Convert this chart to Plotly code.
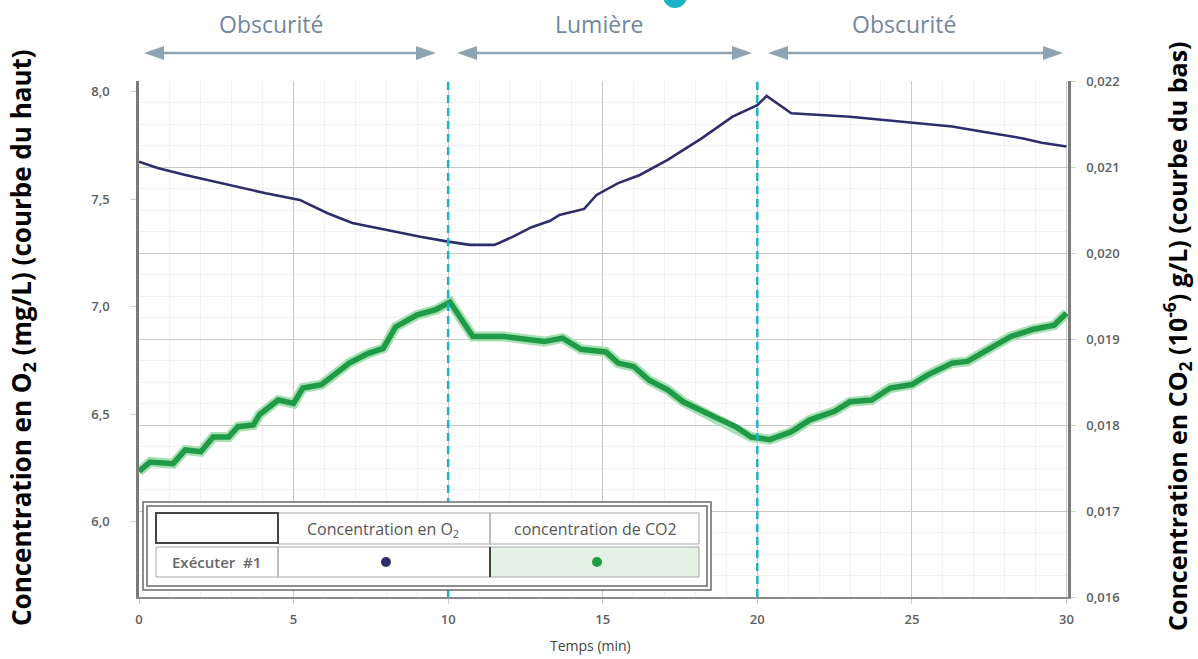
import plotly.graph_objects as go

# ---------------- data ----------------
t_o2 = [0.0, 0.6, 1.5, 3.2, 4.1, 5.2, 6.1, 6.9, 8.0, 9.1, 10.0, 10.7, 11.5, 12.1, 12.7,
        13.3, 13.6, 14.4, 14.8, 15.5, 16.2, 17.1, 18.2, 19.2, 20.0, 20.3, 21.1, 21.9,
        23.0, 24.1, 25.2, 26.3, 27.3, 28.6, 29.2, 30.0]
o2 = [7.675, 7.645, 7.613, 7.558, 7.528, 7.497, 7.435, 7.390, 7.357, 7.326, 7.303, 7.288,
      7.288, 7.326, 7.370, 7.400, 7.427, 7.455, 7.520, 7.575, 7.613, 7.683, 7.783, 7.884,
      7.938, 7.980, 7.900, 7.892, 7.884, 7.869, 7.853, 7.838, 7.814, 7.783, 7.763, 7.745]

t_co2 = [0.0, 0.36, 1.1, 1.5, 2.0, 2.4, 2.9, 3.2, 3.7, 3.9, 4.5, 5.0, 5.3, 5.9, 6.3, 6.8,
         7.4, 7.9, 8.3, 9.0, 9.6, 10.06, 10.8, 11.8, 13.1, 13.7, 14.3, 15.1, 15.5, 16.0,
         16.5, 17.1, 17.6, 18.2, 18.7, 19.3, 19.8, 20.4, 21.1, 21.7, 22.5, 23.0, 23.7,
         24.3, 25.0, 25.5, 26.3, 26.8, 27.3, 28.2, 28.9, 29.6, 30.0]
co2 = [0.01746, 0.01757, 0.01755, 0.01771, 0.01769, 0.01786, 0.01786, 0.01798, 0.01800,
       0.01812, 0.01829, 0.01825, 0.01843, 0.01847, 0.01858, 0.01872, 0.01883, 0.01889,
       0.01914, 0.01928, 0.01934, 0.01943, 0.01903, 0.01903, 0.01897, 0.01901, 0.01888,
       0.01885, 0.01872, 0.01868, 0.01852, 0.01841, 0.01827, 0.01816, 0.01808, 0.01798,
       0.01786, 0.01783, 0.01792, 0.01806, 0.01816, 0.01827, 0.01829, 0.01843, 0.01847,
       0.01858, 0.01872, 0.01874, 0.01885, 0.01903, 0.01911, 0.01916, 0.01930]

x_ticks = [0, 5, 10, 15, 20, 25, 30]
o2_ticks = [6.0, 6.5, 7.0, 7.5, 8.0]
co2_ticks = [0.016, 0.017, 0.018, 0.019, 0.020, 0.021, 0.022]
phase_bounds = [10, 20]
phases = ["Obscurité", "Lumière", "Obscurité"]
legend_headers = ["Concentration en O<sub>2</sub>", "concentration de CO2"]
legend_run = "Exécuter  #1"

# ---------------- layout geometry (pixels) ----------------
W, H = 1198, 659
L, R, T, B = 139, 1068, 81, 597


def px(x):
    return (x - L) / (R - L)


def py(y):
    return (B - y) / (B - T)


BLUE = "#2e2d6b"
GREEN = "#1f9a47"
HALO = "#a8dfb3"
TEAL = "#1cb3c6"
ARROW = "#8fa4b3"
HEAD = "#71879a"
TICK = "#5e5e5e"

fig = go.Figure()

fig.add_trace(go.Scatter(x=t_co2, y=co2, yaxis="y2", mode="lines",
                         line=dict(color=HALO, width=10), hoverinfo="skip", showlegend=False))
fig.add_trace(go.Scatter(x=t_co2, y=co2, yaxis="y2", mode="lines",
                         line=dict(color=GREEN, width=5.5), name="concentration de CO2",
                         showlegend=False))
fig.add_trace(go.Scatter(x=t_o2, y=o2, mode="lines",
                         line=dict(color=BLUE, width=2.6), name="Concentration en O2",
                         showlegend=False))

shapes = []
annotations = []

# dashed phase boundaries
for b in phase_bounds:
    shapes.append(dict(type="line", xref="x", yref="paper", x0=b, x1=b, y0=0, y1=py(77),
                       line=dict(color=TEAL, width=2.5, dash="8px,5px")))

# header arrows
arrow_spans = [(144, 436), (457, 752), (768, 1063)]
label_x = [271, 599, 904]
ay = 53
for (a0, a1), lx, name in zip(arrow_spans, label_x, phases):
    shapes.append(dict(type="line", xref="paper", yref="paper",
                       x0=px(a0 + 14), x1=px(a1 - 14), y0=py(ay), y1=py(ay),
                       line=dict(color=ARROW, width=2.5)))
    shapes.append(dict(type="path", xref="paper", yref="paper",
                       path=f"M {px(a0)} {py(ay)} L {px(a0 + 20)} {py(ay - 7)} L {px(a0 + 20)} {py(ay + 7)} Z",
                       fillcolor=ARROW, line=dict(width=0)))
    shapes.append(dict(type="path", xref="paper", yref="paper",
                       path=f"M {px(a1)} {py(ay)} L {px(a1 - 20)} {py(ay - 7)} L {px(a1 - 20)} {py(ay + 7)} Z",
                       fillcolor=ARROW, line=dict(width=0)))
    annotations.append(dict(xref="paper", yref="paper", x=px(lx), y=py(24), text=name,
                            showarrow=False, font=dict(family="Open Sans", size=23, color=HEAD),
                            xanchor="center", yanchor="middle"))

# partial teal icon at the top edge
shapes.append(dict(type="circle", xref="paper", yref="paper", x0=px(663), x1=px(687),
                   y0=py(8), y1=py(-16), fillcolor=TEAL, line=dict(width=0)))

# legend table
shapes.append(dict(type="rect", xref="paper", yref="paper", x0=px(143), x1=px(711), y0=py(590), y1=py(502),
                   line=dict(color="#6a6a6a", width=1.5), fillcolor="white"))
shapes.append(dict(type="rect", xref="paper", yref="paper", x0=px(147), x1=px(707), y0=py(586), y1=py(506),
                   line=dict(color="#6a6a6a", width=1.5)))
shapes.append(dict(type="rect", xref="paper", yref="paper", x0=px(490), x1=px(699), y0=py(577), y1=py(547),
                   fillcolor="#e4f2e6", line=dict(width=0)))
for (x0, x1, y0, y1) in [(156, 278, 547, 577), (278, 490, 513, 544), (490, 699, 513, 544),
                         (278, 490, 547, 577), (490, 699, 547, 577)]:
    shapes.append(dict(type="rect", xref="paper", yref="paper", x0=px(x0), x1=px(x1), y0=py(y1), y1=py(y0),
                       line=dict(color="#a8a8a8", width=1)))
shapes.append(dict(type="rect", xref="paper", yref="paper", x0=px(156), x1=px(278), y0=py(543), y1=py(513),
                   line=dict(color="#444", width=2)))
shapes.append(dict(type="line", xref="paper", yref="paper", x0=px(490), x1=px(490), y0=py(577), y1=py(547),
                   line=dict(color="#444", width=2)))
shapes.append(dict(type="circle", xref="paper", yref="paper", x0=px(381), x1=px(391), y0=py(567), y1=py(557),
                   fillcolor=BLUE, line=dict(width=0)))
shapes.append(dict(type="circle", xref="paper", yref="paper", x0=px(592), x1=px(602), y0=py(567), y1=py(557),
                   fillcolor=GREEN, line=dict(width=0)))
annotations.append(dict(xref="paper", yref="paper", x=px(383), y=py(529), text=legend_headers[0],
                        showarrow=False, xanchor="center", yanchor="middle",
                        font=dict(family="Open Sans", size=16, color="#555")))
annotations.append(dict(xref="paper", yref="paper", x=px(595), y=py(529), text=legend_headers[1],
                        showarrow=False, xanchor="center", yanchor="middle",
                        font=dict(family="Open Sans", size=16, color="#555")))
annotations.append(dict(xref="paper", yref="paper", x=px(216), y=py(562), text=legend_run,
                        showarrow=False, xanchor="center", yanchor="middle",
                        font=dict(family="Open Sans", size=15, color="#666", weight=600)))

# axis titles
annotations.append(dict(xref="paper", yref="paper", x=px(22), y=py(338),
                        text="Concentration en O<sub>2</sub> (mg/L) (courbe du haut)",
                        textangle=-90, showarrow=False, xanchor="center", yanchor="middle",
                        font=dict(family="Open Sans", size=26, color="black", weight="bold")))
annotations.append(dict(xref="paper", yref="paper", x=px(1177), y=py(336),
                        text="Concentration en CO<sub>2</sub> (10<sup>-6</sup>) g/L) (courbe du bas)",
                        textangle=-90, showarrow=False, xanchor="center", yanchor="middle",
                        font=dict(family="Open Sans", size=25, color="black", weight="bold")))
annotations.append(dict(xref="paper", yref="paper", x=px(590), y=py(645), text="Temps (min)",
                        showarrow=False, xanchor="center", yanchor="middle",
                        font=dict(family="Open Sans", size=14, color="#444")))

fig.update_layout(
    width=W, height=H,
    margin=dict(l=L, r=W - R, t=T, b=H - B, pad=0, autoexpand=False),
    paper_bgcolor="white", plot_bgcolor="white",
    separators=", ",
    font=dict(family="Open Sans", color=TICK),
    showlegend=False,
    shapes=shapes,
    annotations=annotations,
    xaxis=dict(range=[0, 30.05], tickvals=x_ticks, showgrid=True, gridcolor="#c8c8c8", gridwidth=1,
               minor=dict(dtick=1, showgrid=True, gridcolor="#f2f2f2"), automargin=False,
               showline=True, linecolor="#8a8a8a", linewidth=2, ticks="outside", ticklen=5,
               tickcolor="#c8c8c8", tickfont=dict(size=13, color=TICK, weight=600), ticklabelstandoff=4,
               zeroline=False),
    yaxis=dict(range=[5.65, 8.05], tickvals=o2_ticks, tickformat=".1f", showgrid=False, zeroline=False,
               showline=True, linecolor="#7a7a7a", linewidth=2.5, ticks="outside", ticklen=6,
               automargin=False,
               tickcolor="#d0d0d0", tickfont=dict(size=13, color=TICK, weight=600), ticklabelstandoff=18),
    yaxis2=dict(range=[0.016, 0.022], tickvals=co2_ticks, tickformat=".3f", overlaying="y", side="right",
                showgrid=True, gridcolor="#c8c8c8", gridwidth=1, automargin=False,
                minor=dict(dtick=0.00025, showgrid=True, gridcolor="#f2f2f2"),
                zeroline=False, showline=True, linecolor="#7a7a7a", linewidth=2.5, ticks="outside",
                ticklen=5, tickcolor="#d0d0d0", tickfont=dict(size=13, color=TICK, weight=600),
                ticklabelstandoff=8),
)

fig.write_html("out.html")
